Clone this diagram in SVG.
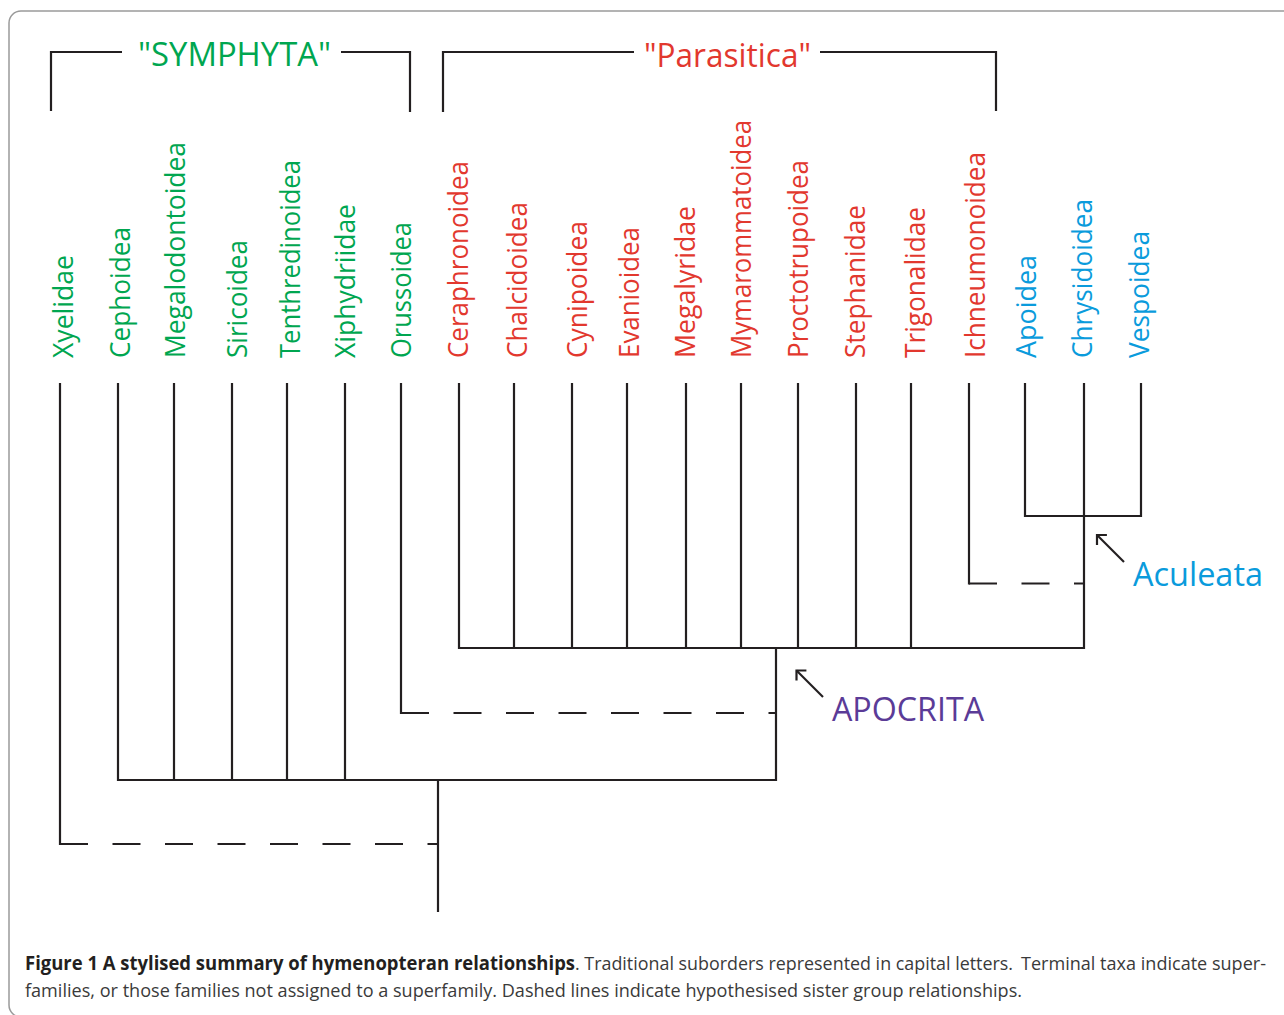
<svg xmlns="http://www.w3.org/2000/svg" width="1284" height="1015" viewBox="0 0 1284 1015">
<defs>
<style>
.ln{fill:none;stroke:#231f20;stroke-width:2.2;stroke-linejoin:miter;stroke-linecap:butt}
.dash{fill:none;stroke:#231f20;stroke-width:2.2;stroke-dasharray:28 24.5}
.lab{font-family:"Open Sans","Noto Sans","Liberation Sans",sans-serif;font-size:28px}
.g{fill:#00a650}
.r{fill:#e2382e}
.b{fill:#0a9bdc}
.p{fill:#5b3b97}
.grp{font-family:"Open Sans","Noto Sans","Liberation Sans",sans-serif;font-size:33px}
.cap{font-family:"Open Sans","Noto Sans","Liberation Sans",sans-serif;font-size:19px}
</style>
<marker id="open" viewBox="-10 -10 20 20" refX="0" refY="0" markerWidth="20" markerHeight="20" markerUnits="userSpaceOnUse" orient="auto" overflow="visible">
<path d="M-7,-7 L0,0 L-7,7" fill="none" stroke="#231f20" stroke-width="2.2"/>
</marker>
</defs>
<rect width="1284" height="1015" fill="#ffffff"/>
<rect x="9" y="11" width="1300" height="1006" rx="12" fill="none" stroke="#9a9a9a" stroke-width="1.5"/>

<g id="brackets">
<path class="ln" d="M51,111 V52 H122 M341,52 H410 V112"/>
<path class="ln" d="M443,112 V52 H634 M820,52 H996 V111"/>
<text class="grp g" x="138" y="66" textLength="193" lengthAdjust="spacingAndGlyphs">"SYMPHYTA"</text>
<text class="grp r" x="644" y="67" textLength="167" lengthAdjust="spacingAndGlyphs">"Parasitica"</text>
</g>

<g id="connectors">
<path class="ln" d="M60,383 V845"/>
<path class="dash" d="M60,844 H438"/>
<path class="ln" d="M438,912 V780"/>
<path class="ln" d="M118,383 V780 H776 V648"/>
<path class="ln" d="M174,383 V780 M232,383 V780 M287,383 V780 M345,383 V780"/>
<path class="ln" d="M401,383 V714"/>
<path class="dash" d="M401,713 H776"/>
<path class="ln" d="M459,383 V648 H1084 V383"/>
<path class="ln" d="M514,383 V648 M572,383 V648 M627,383 V648 M686,383 V648 M741,383 V648 M798,383 V648 M856,383 V648 M911,383 V648"/>
<path class="ln" d="M969,383 V584.5"/>
<path class="dash" d="M969,583.5 H1084"/>
<path class="ln" d="M1025,383 V516 H1141 V383"/>
<path class="ln" d="M1124,562 L1097,535" marker-end="url(#open)"/>
<path class="ln" d="M823,697 L796.5,670.5" marker-end="url(#open)"/>
</g>

<g id="taxa" class="lab">
<g id="n-xyelidae"><text class="g" transform="translate(73,358) rotate(-90)" textLength="103" lengthAdjust="spacingAndGlyphs">Xyelidae</text></g>
<g id="n-cephoidea"><text class="g" transform="translate(130,358) rotate(-90)" textLength="131" lengthAdjust="spacingAndGlyphs">Cephoidea</text></g>
<g id="n-megalodontoidea"><text class="g" transform="translate(184.5,358) rotate(-90)" textLength="216" lengthAdjust="spacingAndGlyphs">Megalodontoidea</text></g>
<g id="n-siricoidea"><text class="g" transform="translate(247,358) rotate(-90)" textLength="118" lengthAdjust="spacingAndGlyphs">Siricoidea</text></g>
<g id="n-tenthredinoidea"><text class="g" transform="translate(300,358) rotate(-90)" textLength="198" lengthAdjust="spacingAndGlyphs">Tenthredinoidea</text></g>
<g id="n-xiphydriidae"><text class="g" transform="translate(355,358) rotate(-90)" textLength="154" lengthAdjust="spacingAndGlyphs">Xiphydriidae</text></g>
<g id="n-orussoidea"><text class="g" transform="translate(411,358) rotate(-90)" textLength="136" lengthAdjust="spacingAndGlyphs">Orussoidea</text></g>
<g id="n-ceraphronoidea"><text class="r" transform="translate(468,358) rotate(-90)" textLength="197" lengthAdjust="spacingAndGlyphs">Ceraphronoidea</text></g>
<g id="n-chalcidoidea"><text class="r" transform="translate(527,358) rotate(-90)" textLength="156" lengthAdjust="spacingAndGlyphs">Chalcidoidea</text></g>
<g id="n-cynipoidea"><text class="r" transform="translate(586.5,358) rotate(-90)" textLength="137" lengthAdjust="spacingAndGlyphs">Cynipoidea</text></g>
<g id="n-evanioidea"><text class="r" transform="translate(639,358) rotate(-90)" textLength="131" lengthAdjust="spacingAndGlyphs">Evanioidea</text></g>
<g id="n-megalyridae"><text class="r" transform="translate(694.5,358) rotate(-90)" textLength="152" lengthAdjust="spacingAndGlyphs">Megalyridae</text></g>
<g id="n-mymarommatoidea"><text class="r" transform="translate(751,358) rotate(-90)" textLength="238" lengthAdjust="spacingAndGlyphs">Mymarommatoidea</text></g>
<g id="n-proctotrupoidea"><text class="r" transform="translate(808,358) rotate(-90)" textLength="198" lengthAdjust="spacingAndGlyphs">Proctotrupoidea</text></g>
<g id="n-stephanidae"><text class="r" transform="translate(864.5,358) rotate(-90)" textLength="153" lengthAdjust="spacingAndGlyphs">Stephanidae</text></g>
<g id="n-trigonalidae"><text class="r" transform="translate(925,358) rotate(-90)" textLength="151" lengthAdjust="spacingAndGlyphs">Trigonalidae</text></g>
<g id="n-ichneumonoidea"><text class="r" transform="translate(984.5,358) rotate(-90)" textLength="206" lengthAdjust="spacingAndGlyphs">Ichneumonoidea</text></g>
<g id="n-apoidea"><text class="b" transform="translate(1036,358) rotate(-90)" textLength="103" lengthAdjust="spacingAndGlyphs">Apoidea</text></g>
<g id="n-chrysidoidea"><text class="b" transform="translate(1091.5,358) rotate(-90)" textLength="159" lengthAdjust="spacingAndGlyphs">Chrysidoidea</text></g>
<g id="n-vespoidea"><text class="b" transform="translate(1149,358) rotate(-90)" textLength="127" lengthAdjust="spacingAndGlyphs">Vespoidea</text></g>
</g>

<g id="clades">
<text id="aculeata" class="grp b" x="1133" y="586" font-size="34" textLength="130" lengthAdjust="spacingAndGlyphs">Aculeata</text>
<text id="apocrita" class="grp p" x="832" y="721" font-size="34" textLength="152" lengthAdjust="spacingAndGlyphs">APOCRITA</text>
</g>

<g id="caption" class="cap">
<text x="25" y="970" font-weight="bold" fill="#231f20" textLength="550" lengthAdjust="spacingAndGlyphs">Figure 1 A stylised summary of hymenopteran relationships</text>
<text x="575" y="970" fill="#3a3a3a" textLength="438" lengthAdjust="spacingAndGlyphs">. Traditional suborders represented in capital letters.</text>
<text x="1266" y="970" fill="#3a3a3a" text-anchor="end" textLength="245" lengthAdjust="spacingAndGlyphs">Terminal taxa indicate super-</text>
<text x="25" y="997" fill="#3a3a3a" textLength="997" lengthAdjust="spacingAndGlyphs">families, or those families not assigned to a superfamily. Dashed lines indicate hypothesised sister group relationships.</text>
</g>
</svg>
